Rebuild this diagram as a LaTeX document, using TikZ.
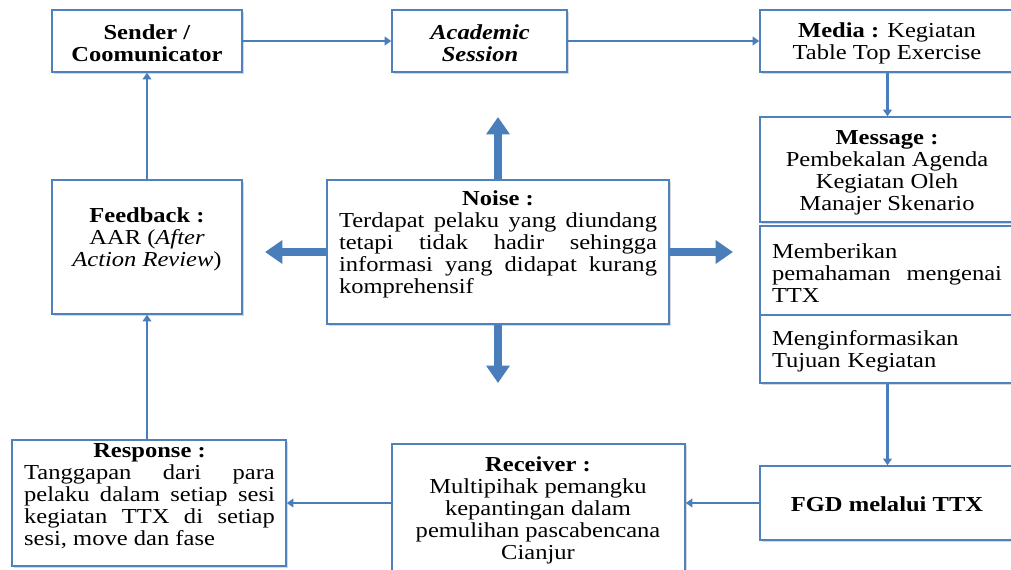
\documentclass[tikz,border=0pt]{standalone}
\usepackage{fontspec}
\setmainfont{Liberation Serif}[FakeStretch=1.15]
\usetikzlibrary{arrows.meta,fit,shadows}
\definecolor{boxblue}{HTML}{4F81BD}
\definecolor{arrblue}{HTML}{4A7EBB}
\setlength{\parindent}{0pt}
\begin{document}
\begin{tikzpicture}[x=0.75pt,y=-0.75pt,
  box/.style={draw=boxblue, line width=1.1pt, fill=white, inner sep=0pt,
    drop shadow={shadow xshift=1.2pt, shadow yshift=-1.2pt, opacity=0.25, fill=black!60}},
  txt/.style={inner sep=0pt, font=\fontsize{16}{16.5}\selectfont},
  link/.style={draw=arrblue, line width=2pt, -{Triangle[width=6.5pt,length=5pt]}},
  bigarrow/.style={draw=arrblue, line width=6pt, -{Triangle[width=17pt,length=13pt]}},
]
\useasboundingbox (0,0) rectangle (1011,569);
\fill[white] (0,0) rectangle (1011,569);

% boxes
\node[box, fit={(52,10) (242,72)}] (sender) {};
\node[box, fit={(392,10) (567,72)}] (academic) {};
\node[box, fit={(760,10) (1015,72)}] (media) {};
\node[box, fit={(760,117) (1015,222)}] (message) {};
\node[box, fit={(760,226) (1015,315)}] (memberi) {};
\node[box, fit={(760,315) (1015,383)}] (menginfo) {};
\node[box, fit={(760,466) (1015,540)}] (fgd) {};
\node[box, fit={(392,444) (685,580)}] (receiver) {};
\node[box, fit={(12,440) (286,566)}] (response) {};
\node[box, fit={(52,180) (242,314)}] (feedback) {};
\node[box, fit={(327,180) (669,324)}] (noise) {};

% texts
\node[txt, align=center] (senderT) at (147,43) {\textbf{Sender /}\\\textbf{Coomunicator}};
\node[txt, align=center] (academicT) at (480,43) {\textbf{\textit{Academic}}\\\textbf{\textit{Session}}};
\node[txt, align=center] (mediaT) at (887,43) {\textbf{Media :} Kegiatan\\Table Top Exercise};
\node[txt, align=center] (messageT) at (887,173) {\textbf{Message :}\\Pembekalan Agenda\\Kegiatan Oleh\\Manajer Skenario};
\node[txt, align=justify, text width=172.5pt] (memberiT) at (887,273) {Memberikan\\pemahaman mengenai\linebreak TTX};
\node[txt, align=left, text width=172.5pt] (menginfoT) at (887,351) {Menginformasikan\\Tujuan Kegiatan};
\node[txt, align=center] (fgdT) at (887,504) {\textbf{FGD melalui TTX}};
\node[txt, align=center] (receiverT) at (538,510) {\textbf{Receiver :}\\Multipihak pemangku\\kepantingan dalam\\pemulihan pascabencana\\Cianjur};
\node[txt, align=justify, text width=188pt] (responseT) at (149.5,496) {\hspace*{\fill}\textbf{Response :}\hspace*{\fill}\par Tanggapan dari para\linebreak pelaku dalam setiap sesi\linebreak kegiatan TTX di setiap\linebreak sesi, move dan fase};
\node[txt, align=center] (feedbackT) at (147,239) {\textbf{Feedback :}\\AAR (\textit{After}\\\textit{Action Review})};
\node[txt, align=justify, text width=238.5pt] (noiseT) at (498,244) {\hspace*{\fill}\textbf{Noise :}\hspace*{\fill}\par Terdapat pelaku yang diundang\linebreak tetapi tidak hadir sehingga\linebreak informasi yang didapat kurang\linebreak komprehensif};

% free ends of the noise arrows
\coordinate (nup) at (498,117);
\coordinate (ndown) at (498,383);
\coordinate (nleft) at (265,252);
\coordinate (nright) at (733,252);

% connectors
\draw[link] (sender.east) -- (academic.west);
\draw[link] (academic.east) -- (media.west);
\draw[link] (media.south) -- (message.north);
\draw[link] (menginfo.south) -- (fgd.north);
\draw[link] (fgd.west) -- (fgd.west -| receiver.east);
\draw[link] (response.east -| receiver.west) -- (response.east);
\draw[link] (feedback.south |- response.north) -- (feedback.south);
\draw[link] (feedback.north) -- (sender.south);

\draw[bigarrow] (noise.north) -- (nup);
\draw[bigarrow] (noise.south) -- (ndown);
\draw[bigarrow] (noise.west) -- (nleft);
\draw[bigarrow] (noise.east) -- (nright);
\end{tikzpicture}
\end{document}
